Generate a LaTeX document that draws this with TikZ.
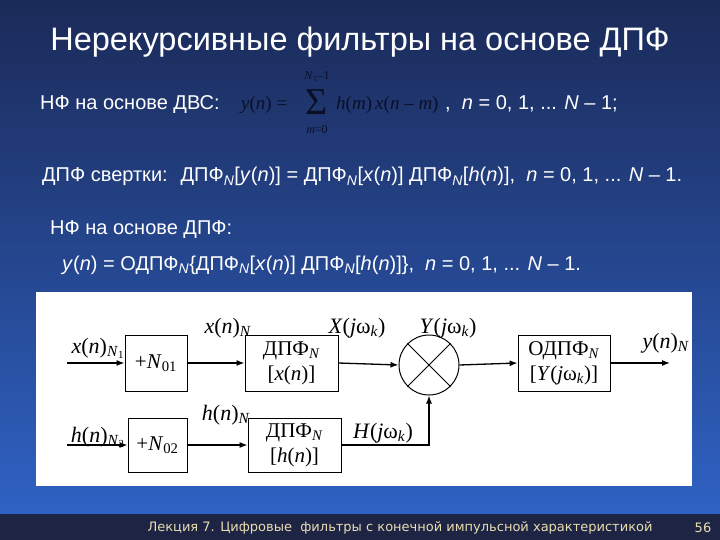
\documentclass[tikz,border=0pt]{standalone}
\usepackage{fontspec}
\setmainfont{Liberation Sans}
\newfontfamily\tnr{Liberation Serif}
\newfontfamily\foot{DejaVu Sans}
\usetikzlibrary{arrows.meta}
\definecolor{bgtop}{HTML}{1B2A58}
\definecolor{bgbot}{HTML}{2F62C4}
\definecolor{footc}{HTML}{1E2544}
\definecolor{foottxt}{HTML}{E8DDB0}
\definecolor{formc}{HTML}{0A0F25}
\newcommand{\lo}[1]{\textsubscript{#1}}
\newcommand{\iv}[1]{\textit{#1}}
\begin{document}
\begin{tikzpicture}[x=1pt,y=-1pt,
  txt/.style={text=white,anchor=base west,inner sep=0pt,font=\fontsize{20}{22}\selectfont},
  frm/.style={text=formc,inner sep=0pt,anchor=base,font=\tnr\fontsize{19}{22}\selectfont},
  blk/.style={draw,line width=0.8pt,inner sep=0pt,font=\tnr\fontsize{21}{25}\selectfont,align=center},
  lab/.style={font=\tnr\fontsize{22}{24}\selectfont,inner sep=0pt,anchor=base},
  arr/.style={-{Latex[length=8pt,width=6pt]},line width=1.3pt}]
\useasboundingbox (0,0) rectangle (720,540);
\shade[top color=bgtop,bottom color=bgbot] (0,0) rectangle (720,515);
\fill[footc] (0,514) rectangle (720,540);
\node[text=white,font=\fontsize{32.5}{35}\selectfont,inner sep=0pt] (title) at (360,42) {Нерекурсивные фильтры на основе ДПФ};
\node[txt] (l1) at (40,110) {НФ на основе ДВС:};
\node[frm,anchor=base west] (f1) at (241,110) {\iv{y}(\iv{n}) =};
\node[frm,font=\tnr\fontsize{38}{40}\selectfont] (sig) at (317,115) {Σ};
\node[frm,font=\tnr\fontsize{12}{14}\selectfont] (sup) at (317,80) {\iv{N}\lo{1}–1};
\node[frm,font=\tnr\fontsize{12}{14}\selectfont] (sinf) at (317,134) {\iv{m}=0};
\node[frm,anchor=base west] (f2) at (336,110) {\iv{h}(\iv{m})\,\iv{x}(\iv{n} – \iv{m})};
\node[txt] (l1b) at (445,110) {, \ \iv{n} = 0, 1, ... \iv{N} – 1;};
\node[txt] (l2) at (42,182) {ДПФ свертки: \ ДПФ\lo{\iv{N}}[\iv{y}(\iv{n})] = ДПФ\lo{\iv{N}}[\iv{x}(\iv{n})] ДПФ\lo{\iv{N}}[\iv{h}(\iv{n})], \ \iv{n} = 0, 1, ... \iv{N} – 1.};
\node[txt] (l3) at (50,235) {НФ на основе ДПФ:};
\node[txt] (l4) at (62,270) {\iv{y}(\iv{n}) = ОДПФ\lo{\iv{N}}\{ДПФ\lo{\iv{N}}[\iv{x}(\iv{n})] ДПФ\lo{\iv{N}}[\iv{h}(\iv{n})]\}, \ \iv{n} = 0, 1, ... \iv{N} – 1.};
\fill[white] (36,292) rectangle (692,486);
% blocks
\node[blk,minimum width=62pt,minimum height=56pt] (n1) at (156,363) {+\iv{N}\lo{01}};
\node[blk,minimum width=93pt,minimum height=56pt] (d1) at (291.5,363) {ДПФ\lo{\iv{N}}\\{}[\iv{x}(\iv{n})]};
\node[draw,circle,line width=1pt,minimum size=60pt,inner sep=0pt] (m) at (429,365) {};
\draw[line width=1pt] (m.45)--(m.225) (m.135)--(m.315);
\node[blk,minimum width=92pt,minimum height=56pt] (o) at (564,363) {ОДПФ\lo{\iv{N}}\\{}[\iv{Y}(\iv{j}ω\lo{\iv{k}})]};
\node[blk,minimum width=59pt,minimum height=54pt] (n2) at (157.5,445) {+\iv{N}\lo{02}};
\node[blk,minimum width=93pt,minimum height=54pt] (d2) at (294.5,445) {ДПФ\lo{\iv{N}}\\{}[\iv{h}(\iv{n})]};
\coordinate (xin) at (67,363);
\coordinate (hin) at (67,445);
\coordinate (yout) at (670,363);
\coordinate (corner) at (429,445);
\draw[arr] (xin) -- (n1);
\draw[arr] (n1) -- (d1);
\draw[arr] (d1.east) -- (m.west);
\draw[arr] (m.east) -- (o.west);
\draw[arr] (o) -- (yout);
\draw[arr] (hin) -- (n2);
\draw[arr] (n2) -- (d2);
\draw[arr] (d2.east) -- (corner) -- (m.south);
\node[lab] (lx1) at (98,353) {\iv{x}(\iv{n})\lo{\iv{N}\lo{1}}};
\node[lab] (lx2) at (228,333) {\iv{x}(\iv{n})\lo{\iv{N}}};
\node[lab] (lX) at (357,333) {\iv{X}(\iv{j}ω\lo{\iv{k}})};
\node[lab] (lY) at (448,333) {\iv{Y}(\iv{j}ω\lo{\iv{k}})};
\node[lab] (ly) at (666,348) {\iv{y}(\iv{n})\lo{\iv{N}}};
\node[lab] (lh1) at (98,442) {\iv{h}(\iv{n})\lo{\iv{N}\lo{2}}};
\node[lab] (lh2) at (226,420) {\iv{h}(\iv{n})\lo{\iv{N}}};
\node[lab] (lH) at (383,438) {\iv{H}(\iv{j}ω\lo{\iv{k}})};
\node[text=foottxt,font=\foot\fontsize{13}{15}\selectfont,inner sep=0pt] (ft) at (400,528) {Лекция 7. Цифровые \ фильтры с конечной импульсной характеристикой};
\node[text=foottxt,font=\foot\fontsize{13}{15}\selectfont,inner sep=0pt] (pg) at (703,528) {56};
\end{tikzpicture}
\end{document}
